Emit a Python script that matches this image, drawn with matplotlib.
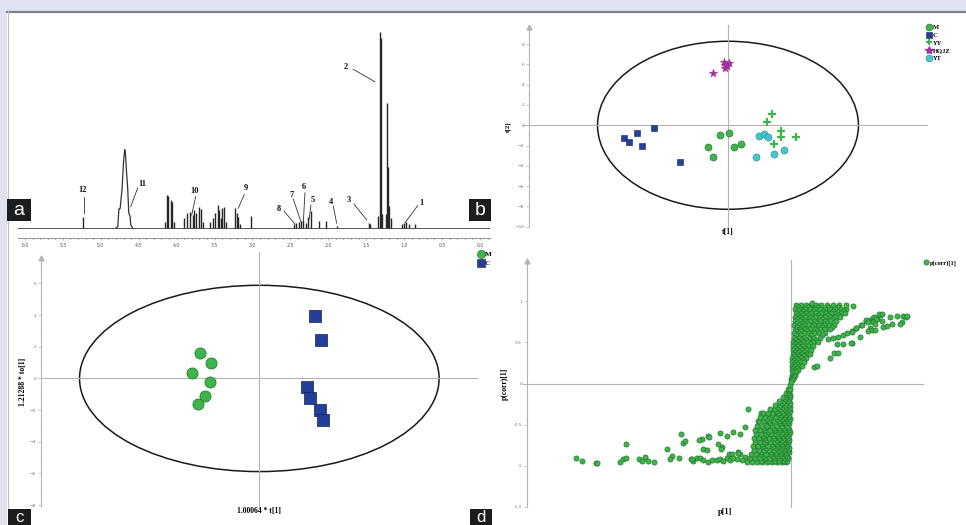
import numpy as np
import matplotlib
matplotlib.use("Agg")
import matplotlib.pyplot as plt
from matplotlib.patches import Ellipse, Rectangle
from matplotlib.lines import Line2D
from matplotlib.ticker import MultipleLocator, FormatStrFormatter

W, H = 966, 525

# ---------------- (a) 1H NMR spectrum ----------------
peak_ppm = [5.235, 4.15, 4.125, 4.11, 4.07, 4.055, 4.04,
            3.90, 3.87, 3.83, 3.79, 3.77, 3.74, 3.70, 3.68, 3.65,
            3.555, 3.525, 3.495, 3.46, 3.44, 3.42, 3.40, 3.376, 3.35,
            3.23, 3.21, 3.19, 3.17, 3.02,
            2.45, 2.42, 2.39, 2.36, 2.33, 2.30, 2.265, 2.225, 2.12, 2.03, 1.89,
            1.47, 1.455, 1.345, 1.325, 1.31, 1.29, 1.245, 1.225, 1.21, 1.195, 1.18,
            1.03, 1.00, 0.97, 0.94, 0.86]
peak_h = [5.8, 3, 16.8, 16.5, 14.3, 13.5, 3,
          5, 7.6, 8.3, 6.6, 9.2, 7.6, 10.9, 9.7, 3,
          3, 5, 7.6, 11.7, 9.2, 5, 10.2, 10.9, 3,
          10.2, 7.8, 5.8, 2, 6.1,
          2, 2.5, 3, 3.5, 4, 2.5, 5.8, 8.8, 3.6, 3.6, 1,
          2.7, 2.2, 6, 100, 97, 7, 7, 64, 31, 11, 5,
          2, 2.5, 3, 2, 2]
water_ppm = [4.80, 4.775, 4.762, 4.755, 4.745, 4.72, 4.70, 4.685, 4.675,
             4.66, 4.645, 4.632, 4.625, 4.615, 4.605, 4.58]
water_h = [0, 0.8, 9.7, 9.7, 10, 20, 34, 40, 38, 28, 20, 8, 7, 6, 1.5, 0]

peak_names = ['1', '2', '3', '4', '5', '6', '7', '8', '9', '10', '11', '12']
name_xy = [(0.778, 12.8), (1.767, 82.1), (1.728, 14.3), (1.965, 13.3),
           (2.202, 14.3), (2.321, 20.9), (2.479, 16.8), (2.651, 9.7),
           (3.086, 20.4), (3.758, 18.9), (4.457, 22.4), (5.235, 19.4)]
pointer = [(0.822, 11.4, 0.989, 2.7), (1.671, 81.0, 1.385, 74.6),
           (1.662, 12.2, 1.494, 4.1), (1.935, 11.2, 1.890, 2.4),
           (2.229, 11.7, 2.255, 4.1), (2.308, 18.0, 2.330, 2.7),
           (2.462, 14.8, 2.361, 3.2), (2.585, 8.7, 2.440, 2.0),
           (3.108, 17.2, 3.187, 10.1), (3.749, 16.0, 3.802, 6.6),
           (4.514, 20.4, 4.606, 10.9), (5.22, 15.8, 5.22, 7.7)]

# ---------------- (b) PCA scores ----------------
b_groups = ['M', 'C', 'YY', 'HQJZ', 'YT']
b_t1 = {
    'M': [-0.79, 0.13, -1.94, -1.51, 0.59, 1.25],
    'C': [-10.25, -9.75, -8.93, -8.44, -7.29, -4.76],
    'YY': [4.33, 3.84, 5.22, 5.22, 6.73, 4.56],
    'HQJZ': [-1.51, -0.36, -0.30, 0.13, -0.30, -0.13],
    'YT': [3.05, 3.55, 3.91, 2.76, 4.56, 5.49],
}
b_t2 = {
    'M': [-0.92, -0.72, -2.17, -3.12, -2.17, -1.80],
    'C': [-1.25, -1.64, -0.76, -2.04, -0.23, -3.62],
    'YY': [1.10, 0.33, -0.56, -1.12, -1.15, -1.84],
    'HQJZ': [5.19, 6.24, 5.94, 6.10, 5.60, 5.84],
    'YT': [-1.07, -0.87, -1.13, -3.10, -2.81, -2.42],
}

# ---------------- (c) OPLS-DA scores ----------------
c_M_t1 = [-3.77, -3.04, -4.23, -3.13, -3.47, -3.89]
c_M_to1 = [1.58, 0.95, 0.32, -0.21, -1.12, -1.63]
c_C_t1 = [3.51, 3.92, 3.03, 3.20, 3.83, 4.04]
c_C_to1 = [3.96, 2.42, -0.57, -1.23, -2.00, -2.60]

# ---------------- (d) S-plot ----------------
s_far = [(-0.215, -0.91), (-0.209, -0.94), (-0.195, -0.96), (-0.194, -0.96),
         (-0.165, -0.74), (-0.171, -0.95), (-0.168, -0.92), (-0.165, -0.91),
         (-0.152, -0.92), (-0.149, -0.94), (-0.146, -0.89), (-0.143, -0.94),
         (-0.137, -0.95), (-0.124, -0.79), (-0.119, -0.88), (-0.121, -0.92),
         (-0.112, -0.90), (-0.110, -0.61), (-0.108, -0.72), (-0.106, -0.70),
         (-0.100, -0.92), (-0.098, -0.94), (-0.094, -0.91)]
s_low_sparse = [(-0.043, -0.31), (-0.030, -0.36), (-0.024, -0.45), (-0.033, -0.45),
                (-0.046, -0.53), (-0.051, -0.61), (-0.058, -0.59), (-0.064, -0.64),
                (-0.071, -0.60), (-0.089, -0.67), (-0.083, -0.64), (-0.073, -0.73),
                (-0.069, -0.77), (-0.088, -0.80), (-0.084, -0.81), (-0.053, -0.83),
                (-0.051, -0.86), (-0.046, -0.89), (-0.092, -0.68), (-0.082, -0.65),
                (-0.070, -0.79), (-0.062, -0.85), (-0.059, -0.86), (-0.053, -0.84),
                (-0.099, -0.92), (-0.091, -0.90), (-0.088, -0.93), (-0.083, -0.95),
                (-0.079, -0.93), (-0.074, -0.93), (-0.071, -0.92), (-0.068, -0.94),
                (-0.064, -0.91), (-0.061, -0.93), (-0.058, -0.90), (-0.054, -0.92),
                (-0.049, -0.93)]
s_low_rows = [
    (-0.95, [-0.044, -0.039, -0.034, -0.029, -0.024, -0.019, -0.014, -0.009, -0.005]),
    (-0.935, [-0.030, -0.022, -0.016, -0.012, -0.007, -0.004]),
    (-0.91, [-0.041, -0.036, -0.031, -0.026, -0.021, -0.016, -0.011, -0.006, -0.003]),
    (-0.885, [-0.028, -0.018, -0.013, -0.008, -0.004]),
    (-0.86, [-0.040, -0.035, -0.030, -0.025, -0.020, -0.015, -0.010, -0.005]),
    (-0.835, [-0.030, -0.020, -0.015, -0.010, -0.005, -0.002]),
    (-0.81, [-0.037, -0.032, -0.027, -0.022, -0.017, -0.012, -0.007, -0.003]),
    (-0.785, [-0.025, -0.015, -0.010, -0.005, -0.002]),
    (-0.76, [-0.038, -0.033, -0.028, -0.023, -0.018, -0.013, -0.008, -0.004]),
    (-0.735, [-0.029, -0.019, -0.014, -0.009, -0.004]),
    (-0.71, [-0.036, -0.031, -0.026, -0.021, -0.016, -0.011, -0.006, -0.003]),
    (-0.685, [-0.024, -0.014, -0.009, -0.004, -0.002]),
    (-0.66, [-0.037, -0.032, -0.027, -0.022, -0.017, -0.012, -0.007, -0.003]),
    (-0.635, [-0.028, -0.018, -0.013, -0.008, -0.004]),
    (-0.61, [-0.035, -0.030, -0.025, -0.020, -0.015, -0.010, -0.005, -0.002]),
    (-0.585, [-0.023, -0.013, -0.008, -0.004, -0.001]),
    (-0.56, [-0.036, -0.031, -0.026, -0.021, -0.016, -0.011, -0.006, -0.002]),
    (-0.535, [-0.027, -0.017, -0.012, -0.007, -0.003]),
    (-0.51, [-0.034, -0.029, -0.024, -0.019, -0.014, -0.009, -0.004]),
    (-0.485, [-0.021, -0.011, -0.006, -0.002]),
    (-0.46, [-0.032, -0.027, -0.022, -0.017, -0.012, -0.007, -0.003]),
    (-0.435, [-0.024, -0.014, -0.009, -0.004, -0.001]),
    (-0.41, [-0.031, -0.026, -0.021, -0.016, -0.011, -0.006, -0.002]),
    (-0.385, [-0.019, -0.010, -0.005, -0.002]),
    (-0.36, [-0.028, -0.023, -0.018, -0.013, -0.008, -0.003]),
    (-0.335, [-0.015, -0.009, -0.004, -0.001]),
    (-0.31, [-0.021, -0.016, -0.011, -0.006, -0.002]),
    (-0.285, [-0.013, -0.008, -0.004, -0.001]),
    (-0.26, [-0.016, -0.011, -0.006, -0.002]),
    (-0.235, [-0.009, -0.005, -0.001]),
    (-0.21, [-0.012, -0.007, -0.003]),
    (-0.185, [-0.006, -0.002]),
    (-0.16, [-0.008, -0.004, -0.001]),
    (-0.135, [-0.003, -0.001]),
    (-0.11, [-0.005, -0.002]),
    (-0.085, [-0.002]),
    (-0.06, [-0.003, -0.001]),
    (-0.02, [-0.001]),
]
s_up_rows = [
    (0.95, [0.005, 0.010, 0.015, 0.020, 0.025, 0.030, 0.036, 0.042, 0.048]),
    (0.93, [0.007, 0.017, 0.027, 0.037, 0.047]),
    (0.91, [0.004, 0.009, 0.014, 0.019, 0.024, 0.029, 0.034, 0.039, 0.044, 0.050, 0.055]),
    (0.885, [0.007, 0.012, 0.022, 0.032, 0.042, 0.052]),
    (0.86, [0.005, 0.010, 0.015, 0.020, 0.025, 0.030, 0.035, 0.040, 0.045, 0.050, 0.054]),
    (0.835, [0.007, 0.012, 0.017, 0.027, 0.037, 0.047]),
    (0.81, [0.004, 0.009, 0.014, 0.019, 0.024, 0.029, 0.034, 0.039, 0.044, 0.049]),
    (0.785, [0.006, 0.011, 0.021, 0.031, 0.041]),
    (0.76, [0.004, 0.009, 0.014, 0.019, 0.024, 0.029, 0.034, 0.039, 0.045]),
    (0.735, [0.006, 0.011, 0.016, 0.026, 0.036]),
    (0.71, [0.003, 0.008, 0.013, 0.018, 0.023, 0.028, 0.033, 0.038, 0.043]),
    (0.685, [0.006, 0.011, 0.021, 0.031, 0.041]),
    (0.66, [0.004, 0.009, 0.014, 0.019, 0.024, 0.029, 0.034, 0.039]),
    (0.635, [0.005, 0.010, 0.016, 0.026]),
    (0.61, [0.003, 0.008, 0.013, 0.018, 0.023, 0.028, 0.034]),
    (0.585, [0.005, 0.010, 0.020, 0.031]),
    (0.56, [0.003, 0.008, 0.013, 0.018, 0.023, 0.029]),
    (0.535, [0.005, 0.010, 0.015, 0.025]),
    (0.51, [0.002, 0.007, 0.012, 0.017, 0.022, 0.027]),
    (0.485, [0.004, 0.009, 0.019]),
    (0.46, [0.002, 0.007, 0.012, 0.017, 0.022]),
    (0.435, [0.004, 0.009, 0.014]),
    (0.41, [0.002, 0.006, 0.011, 0.016, 0.020]),
    (0.385, [0.004, 0.008, 0.013]),
    (0.36, [0.002, 0.006, 0.011, 0.016, 0.019]),
    (0.335, [0.003, 0.008, 0.013]),
    (0.31, [0.001, 0.005, 0.010, 0.015]),
    (0.285, [0.003, 0.007, 0.012]),
    (0.26, [0.001, 0.005, 0.009, 0.013]),
    (0.235, [0.003, 0.006]),
    (0.21, [0.001, 0.004, 0.008, 0.011]),
    (0.185, [0.002, 0.006]),
    (0.16, [0.001, 0.004, 0.007]),
    (0.135, [0.002, 0.005]),
    (0.11, [0.001, 0.004]),
    (0.085, [0.001, 0.003]),
    (0.06, [0.000, 0.002]),
    (0.04, [0.001]),
    (0.02, [0.000]),
]
s_tail = [(0.037, 0.54), (0.042, 0.55), (0.047, 0.57), (0.052, 0.59), (0.056, 0.61),
          (0.061, 0.64), (0.065, 0.67), (0.070, 0.71), (0.075, 0.76), (0.079, 0.77),
          (0.086, 0.79), (0.089, 0.83)]
s_right = [(0.062, 0.94), (0.055, 0.96), (0.075, 0.77), (0.077, 0.75), (0.082, 0.80),
           (0.083, 0.81), (0.085, 0.79), (0.082, 0.75), (0.084, 0.73), (0.088, 0.84),
           (0.091, 0.85), (0.091, 0.76), (0.092, 0.69), (0.099, 0.81), (0.106, 0.82),
           (0.112, 0.82), (0.115, 0.81), (0.116, 0.82), (0.111, 0.75), (0.109, 0.73),
           (0.101, 0.73), (0.096, 0.70), (0.079, 0.67), (0.077, 0.64), (0.081, 0.65),
           (0.084, 0.65), (0.065, 0.67), (0.061, 0.63), (0.069, 0.57), (0.061, 0.49),
           (0.071, 0.71), (0.060, 0.49), (0.052, 0.48), (0.046, 0.48), (0.043, 0.37),
           (0.047, 0.37), (0.039, 0.31), (0.023, 0.20), (0.026, 0.21), (0.021, 0.98)]

# ---------------- styling ----------------
GREEN, GREEN_E = '#3db54a', '#1f6e2a'
BLUE, BLUE_E = '#243f98', '#121f5a'
PURPLE = '#a3309c'
CYAN, CYAN_E = '#44c4cc', '#2a8a90'
AXGRAY = '#b4b4b4'
SERIF = 'Liberation Serif'

fig = plt.figure(figsize=(W / 100, H / 100), dpi=100)
fig.patch.set_facecolor('white')


def px_axes(left, top, right, bottom, **kw):
    return fig.add_axes([left / W, 1 - bottom / H, (right - left) / W, (bottom - top) / H], **kw)


# page background / frame
bg = px_axes(0, 0, W, H, zorder=-10)
bg.set_xlim(0, W)
bg.set_ylim(H, 0)
bg.axis('off')
bg.add_patch(Rectangle((0, 0), W, 11, color='#dfe3f1', lw=0))
bg.add_patch(Rectangle((0, 0), 7, H, color='#dfe3f1', lw=0))
bg.plot([7, W], [11.5, 11.5], color='#7d8088', lw=1.6)
bg.plot([7.5, 7.5], [11, H], color='#b9bdc8', lw=0.8)


def score_axes(ax, yticks):
    for s in ['top', 'right', 'bottom']:
        ax.spines[s].set_visible(False)
    ax.spines['left'].set_color(AXGRAY)
    ax.spines['left'].set_linewidth(0.8)
    ax.set_xticks([])
    ax.set_yticks(yticks)
    ax.tick_params(axis='y', labelsize=3.2, labelcolor='#777777', color=AXGRAY,
                   length=2, width=0.5, pad=1.5)
    ax.tick_params(axis='y', which='minor', length=1, width=0.4, color=AXGRAY)
    ax.plot(0, 1, marker='^', color=AXGRAY, ms=3.5, transform=ax.transAxes, clip_on=False)
    ax.set_facecolor('none')


# ---- panel a ----
ax_a = px_axes(18, 25, 490, 238)
ax_a.set_facecolor('none')
ax_a.set_xlim(6.092, -0.132)
ax_a.set_ylim(-5.1, 103.6)
for s in ['top', 'right', 'left']:
    ax_a.spines[s].set_visible(False)
ax_a.spines['bottom'].set_color('#999999')
ax_a.spines['bottom'].set_linewidth(0.8)
ax_a.set_yticks([])
ax_a.xaxis.set_major_locator(MultipleLocator(0.5))
ax_a.xaxis.set_minor_locator(MultipleLocator(0.1))
ax_a.xaxis.set_major_formatter(FormatStrFormatter('%.1f'))
ax_a.tick_params(axis='x', labelsize=3.3, labelcolor='#555555', color='#999999',
                 length=1.5, width=0.5, pad=2)
ax_a.tick_params(axis='x', which='minor', length=0.8, width=0.4)
ax_a.axhline(0, color='#555555', lw=0.7)
ax_a.vlines(peak_ppm, 0, peak_h, color='#262626', lw=1.0)
ax_a.plot(water_ppm, water_h, color='#333333', lw=0.9)
for name, (tx, ty), (x0, y0, x1, y1) in zip(peak_names, name_xy, pointer):
    ax_a.text(tx, ty, name, ha='center', va='center', fontsize=6,
              fontweight='bold', family=SERIF, color='#111111')
    ax_a.plot([x0, x1], [y0, y1], color='#333333', lw=0.6)

# ---- panel b ----
ax_b = px_axes(529, 27, 927, 227)
ax_b.set_xlim(-19.6, 19.6)
ax_b.set_ylim(-10.02, 9.68)
score_axes(ax_b, range(-10, 9, 2))
ax_b.yaxis.set_minor_locator(MultipleLocator(1))
ax_b.plot([-20.2, 19.6], [0, 0], color=AXGRAY, lw=0.8, clip_on=False)
ax_b.plot([0, 0], [-10.02, 9.9], color=AXGRAY, lw=0.8, clip_on=False)
ax_b.add_patch(Ellipse((0, 0), 25.7, 16.55, fill=False, ec='#1a1a1a', lw=1.1))
b_style = {
    'M': dict(marker='o', s=26, c=GREEN, edgecolors=GREEN_E, linewidths=0.4),
    'C': dict(marker='s', s=24, c=BLUE, edgecolors=BLUE_E, linewidths=0.4),
    'YY': dict(marker='+', s=38, c=GREEN, linewidths=1.6),
    'HQJZ': dict(marker='*', s=42, c=PURPLE, edgecolors=PURPLE, linewidths=0.3),
    'YT': dict(marker='o', s=26, c=CYAN, edgecolors=CYAN_E, linewidths=0.4),
}
for g in b_groups:
    ax_b.scatter(b_t1[g], b_t2[g], zorder=3, **b_style[g])
ax_b.set_ylabel('t[2]', fontsize=5, fontweight='bold', family=SERIF)
ax_b.yaxis.set_label_coords(-0.045, 0.5)
ax_b.set_xlabel('t[1]', fontsize=5.5, fontweight='bold', family=SERIF)
ax_b.xaxis.set_label_coords(0.5, -0.005)

b_handles = [
    Line2D([], [], ls='', marker='o', ms=5, mfc=GREEN, mec=GREEN_E, mew=0.4),
    Line2D([], [], ls='', marker='s', ms=5, mfc=BLUE, mec=BLUE_E, mew=0.4),
    Line2D([], [], ls='', marker='+', ms=5, color=GREEN, mew=1.5),
    Line2D([], [], ls='', marker='*', ms=6, mfc=PURPLE, mec=PURPLE),
    Line2D([], [], ls='', marker='o', ms=5, mfc=CYAN, mec=CYAN_E, mew=0.4),
]
fig.legend(b_handles, b_groups, loc='upper left', bbox_to_anchor=(926 / W, 1 - 24.5 / H),
           frameon=False, prop=dict(family=SERIF, weight='bold', size=4.7),
           handletextpad=0.1, labelspacing=0.33, borderpad=0, borderaxespad=0,
           handlelength=0.9)

# ---- panel c ----
ax_c = px_axes(41, 258, 477, 506)
ax_c.set_xlim(-13.82, 13.78)
ax_c.set_ylim(-8.06, 7.61)
score_axes(ax_c, range(-8, 7, 2))
ax_c.yaxis.set_minor_locator(MultipleLocator(1))
ax_c.plot([-13.75, 13.78], [0, 0], color=AXGRAY, lw=0.8, clip_on=False)
ax_c.plot([0, 0], [-8.1, 8.0], color=AXGRAY, lw=0.8, clip_on=False)
ax_c.add_patch(Ellipse((0, 0), 22.76, 11.77, fill=False, ec='#1a1a1a', lw=1.1))
ax_c.scatter(c_M_t1, c_M_to1, marker='o', s=64, c=GREEN, edgecolors=GREEN_E,
             linewidths=0.5, zorder=3)
ax_c.scatter(c_C_t1, c_C_to1, marker='s', s=64, c=BLUE, edgecolors=BLUE_E,
             linewidths=0.5, zorder=3)
ax_c.set_ylabel('1.21288 * to[1]', fontsize=5.5, fontweight='bold', family=SERIF)
ax_c.yaxis.set_label_coords(-0.032, 0.5)
ax_c.set_xlabel('1.00064 * t[1]', fontsize=5.5, fontweight='bold', family=SERIF)
ax_c.xaxis.set_label_coords(0.5, -0.004)
c_handles = [
    Line2D([], [], ls='', marker='o', ms=6, mfc=GREEN, mec=GREEN_E, mew=0.4),
    Line2D([], [], ls='', marker='s', ms=6, mfc=BLUE, mec=BLUE_E, mew=0.4),
]
fig.legend(c_handles, ['M', 'C'], loc='upper left', bbox_to_anchor=(477.5 / W, 1 - 251 / H),
           frameon=False, prop=dict(family=SERIF, weight='bold', size=5.2),
           handletextpad=0.1, labelspacing=0.45, borderpad=0, borderaxespad=0,
           handlelength=0.9)

# ---- panel d ----
ax_d = px_axes(527, 261, 923, 507)
ax_d.set_xlim(-0.264, 0.132)
ax_d.set_ylim(-1.5, 1.49)
score_axes(ax_d, [-1.5, -1, -0.5, 0, 0.5, 1])
ax_d.set_yticklabels(['-1.5', '-1', '-0.5', '0', '0.5', '1'])
ax_d.yaxis.set_minor_locator(MultipleLocator(0.1))
ax_d.plot([-0.268, 0.132], [0, 0], color=AXGRAY, lw=0.8, clip_on=False)
ax_d.plot([0, 0], [-1.5, 1.5], color=AXGRAY, lw=0.8, clip_on=False)

s_pts = list(s_far) + list(s_low_sparse)
for c, ps in s_low_rows + s_up_rows:
    s_pts += [(p, c) for p in ps]
s_pts += list(s_tail) + list(s_right)
s_p1 = [p for p, _ in s_pts]
s_corr = [c for _, c in s_pts]
ax_d.scatter(s_p1, s_corr, marker='o', s=14, c=GREEN, edgecolors=GREEN_E,
             linewidths=0.45, zorder=3)
ax_d.set_ylabel('p(corr)[1]', fontsize=5.5, fontweight='bold', family=SERIF)
ax_d.yaxis.set_label_coords(-0.045, 0.5)
ax_d.set_xlabel('p[1]', fontsize=6, fontweight='bold', family=SERIF)
ax_d.xaxis.set_label_coords(0.5, -0.004)
fig.legend([Line2D([], [], ls='', marker='o', ms=3.8, mfc=GREEN, mec=GREEN_E, mew=0.4)],
           ['p(corr)[1]'], loc='upper left', bbox_to_anchor=(923 / W, 1 - 260 / H),
           frameon=False, prop=dict(family=SERIF, weight='bold', size=4.6),
           handletextpad=0.15, borderpad=0, borderaxespad=0, handlelength=0.9)

# panel letters
ov = px_axes(0, 0, W, H, zorder=20)
ov.set_xlim(0, W)
ov.set_ylim(H, 0)
ov.axis('off')
ov.set_facecolor('none')
for (x0, y0, x1, y1, t) in [(7, 199, 31, 221, 'a'), (469, 199, 491, 221, 'b'),
                            (8, 509, 31, 531, 'c'), (470, 509, 492, 531, 'd')]:
    yc = (y0 + min(y1, H)) / 2
    ov.add_patch(Rectangle((x0, y0), x1 - x0, y1 - y0, color='#1c1c1c', lw=0))
    ov.text((x0 + x1) / 2, yc + 0.5, t, color='white', ha='center', va='center',
            fontsize=14 if y1 < H else 12, family='Liberation Sans')

fig.savefig('out.png', dpi=100)
